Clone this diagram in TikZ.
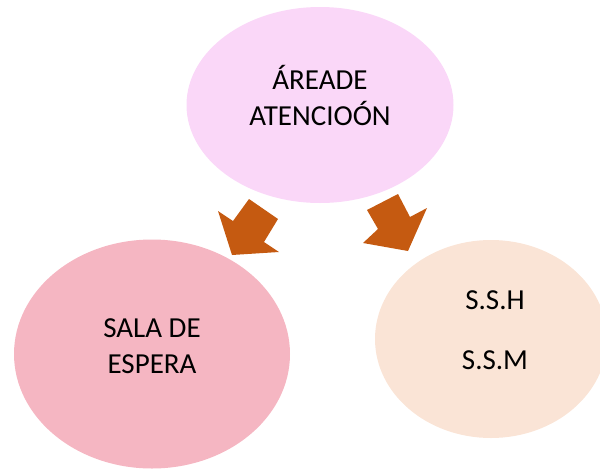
\documentclass[tikz,border=0pt]{standalone}
\usepackage{fontspec}
\setmainfont{Carlito}
\usetikzlibrary{shapes.geometric}
\definecolor{toppink}{RGB}{250,215,248}
\definecolor{leftpink}{RGB}{245,182,194}
\definecolor{peach}{RGB}{250,228,214}
\definecolor{arrowbrown}{RGB}{197,90,17}
\tikzset{
  bubble/.style={ellipse, draw=none, inner sep=0pt},
  lbl/.style={align=center, font=\fontsize{29}{36}\selectfont, text=black},
  blockarrow/.style={fill=arrowbrown, draw=none}
}
\begin{document}
\begin{tikzpicture}[x=1pt,y=-1pt]
\useasboundingbox (0,0) rectangle (600,469);
\node[bubble, fill=toppink, minimum width=267pt, minimum height=196pt] (top) at (320,105) {};
\node[bubble, fill=leftpink, minimum width=276pt, minimum height=229pt] (left) at (152,354) {};
\node[bubble, fill=peach, minimum width=232pt, minimum height=198pt] (right) at (491,339) {};
\node[lbl] (toptext) at ([yshift=10pt]top.center) {ÁREADE\\ATENCIOÓN};
\node[lbl] (lefttext) at ([yshift=8pt]left.center) {SALA DE\\ESPERA};
\node[lbl, font=\fontsize{29}{60}\selectfont] (righttext) at ([xshift=4pt,yshift=9pt]right.center) {S.S.H\\S.S.M};
% block arrows
\fill[blockarrow] (249,199) -- (278,219) -- (264,242) -- (279,252) -- (232,255) -- (218,211) -- (233,221) -- cycle;
\fill[blockarrow] (367,210) -- (398,194) -- (410,217) -- (427,208) -- (408,251) -- (363,243) -- (378,229) -- cycle;
\end{tikzpicture}
\end{document}
